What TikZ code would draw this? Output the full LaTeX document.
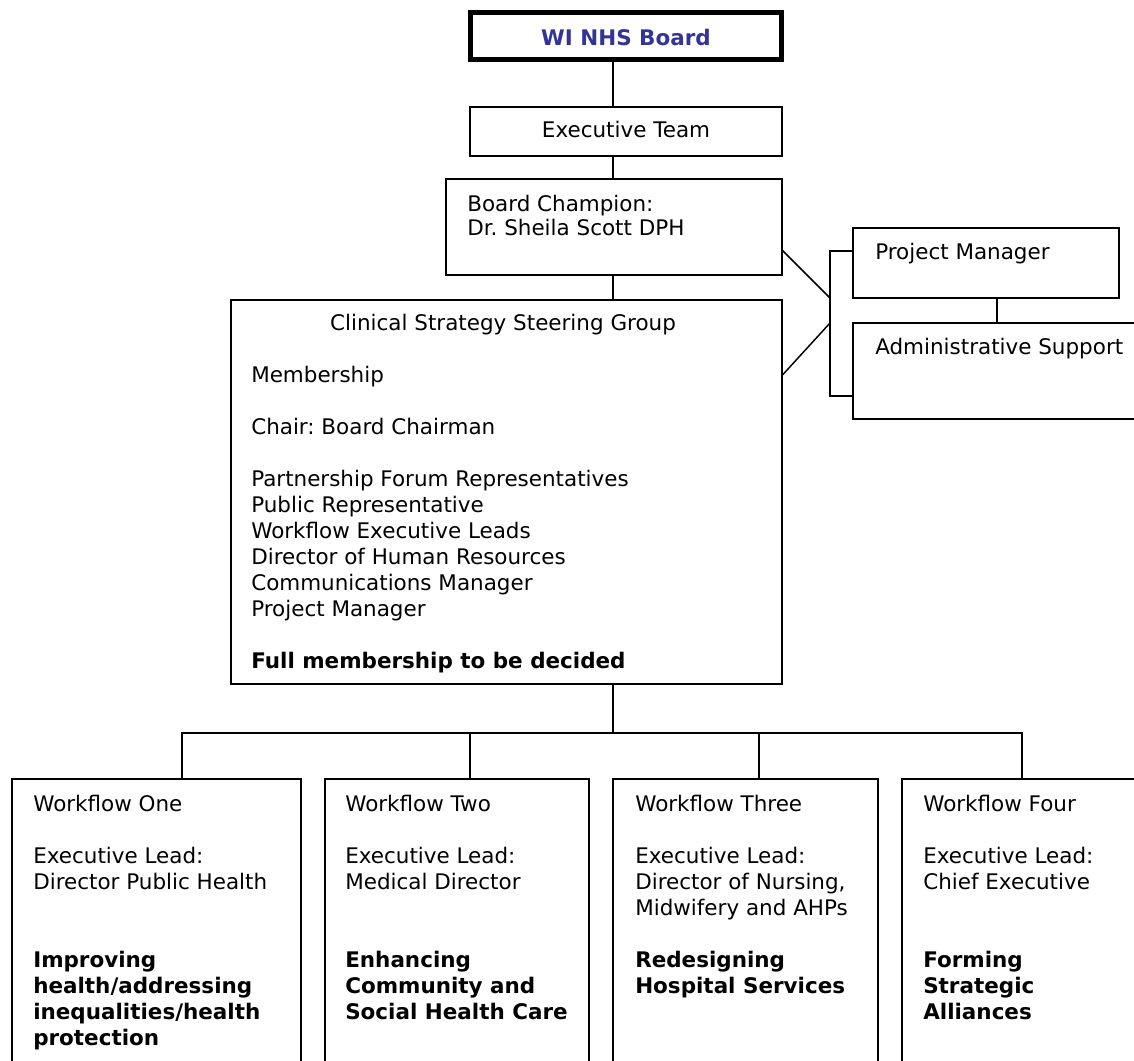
\documentclass[tikz,border=0pt]{standalone}
\usepackage{fontspec}
\setmainfont{DejaVu Sans}
\usepackage{tikz}
\usetikzlibrary{fit}

\definecolor{boardblue}{RGB}{51,51,153}
\newcommand{\firstline}{\rule{0pt}{15pt}}
\frenchspacing

\tikzset{
  orgbox/.style={draw, line width=1.1pt, inner sep=0pt},
  boardbox/.style={draw, line width=3.75pt, inner sep=0pt},
  orgtxt/.style={inner sep=0pt, align=left, font=\fontsize{16.1}{19.5}\selectfont},
  link/.style={line width=1.1pt},
}

\begin{document}
\begin{tikzpicture}[x=0.75pt,y=0.75pt,yscale=-1,xscale=1]
	\useasboundingbox (0,0) rectangle (1134,1060);
	
	%Shape: Rectangle [board]
	\node[boardbox, fit={(470.5,12.5) (781.5,59.5)}] (board) {};
	%Shape: Rectangle [executive team]
	\node[orgbox, fit={(470,107) (782,156)}] (exec) {};
	%Shape: Rectangle [champion]
	\node[orgbox, fit={(446,179) (782,275)}] (champ) {};
	%Shape: Rectangle [steering group]
	\node[orgbox, fit={(231,300) (782,684)}] (cssg) {};
	%Shape: Rectangle [project manager]
	\node[orgbox, fit={(853,228) (1119,298)}] (pm) {};
	%Shape: Rectangle [admin support]
	\node[orgbox, fit={(853,323) (1150,419)}] (admin) {};
	%Shape: Rectangle [workflows]
	\node[orgbox, fit={(12,779) (301,1080)}] (wfone) {};
	\node[orgbox, fit={(325,779) (589,1080)}] (wftwo) {};
	\node[orgbox, fit={(613,779) (878,1080)}] (wfthree) {};
	\node[orgbox, fit={(902,779) (1150,1080)}] (wffour) {};
	
	% Connectors
	\coordinate (spine) at (613,0);
	\draw[link] (board.south -| spine) -- (exec.north -| spine);
	\draw[link] (exec.south -| spine) -- (champ.north -| spine);
	\draw[link] (champ.south -| spine) -- (cssg.north -| spine);
	\coordinate (bar) at (613,733);
	\draw[link] (cssg.south -| spine) -- (bar);
	\coordinate (dropone) at (182,733);
	\coordinate (droptwo) at (470,733);
	\coordinate (dropthree) at (759,733);
	\coordinate (dropfour) at (1022,733);
	\draw[link] (dropone |- wfone.north) -- (dropone) -- (dropfour) -- (dropfour |- wffour.north);
	\draw[link] (droptwo) -- (droptwo |- wftwo.north);
	\draw[link] (dropthree) -- (dropthree |- wfthree.north);
	
	% side bracket
	\coordinate (bracktop) at (830,251);
	\coordinate (brackbot) at (830,396);
	\coordinate (meetup) at (830,298);
	\coordinate (meetlow) at (830,323);
	\draw[link] (bracktop -| pm.west) -- (bracktop) -- (brackbot) -- (brackbot -| admin.west);
	\draw[link] (champ.-8.5) -- (meetup);
	\draw[link] (cssg.23.7) -- (meetlow);
	\coordinate (pmlink) at (997,310);
	\draw[link] (pmlink |- pm.south) -- (pmlink |- admin.north);
	
	% Text Node
	\node[orgtxt, anchor=base, text=boardblue, font=\fontsize{16.1}{19.5}\selectfont\bfseries] (boardtxt) at (626,45) {WI NHS Board};
	% Text Node
	\node[orgtxt, anchor=base] (exectxt) at (626,137) {Executive Team};
	% Text Node
	\node[orgtxt, anchor=north west, font=\fontsize{16.1}{18}\selectfont] (champtxt) at (467,191) {\firstline Board Champion:\\Dr. Sheila Scott DPH};
	% Text Node
	\node[orgtxt, anchor=base] (cssgtitle) at (503,330) {Clinical Strategy Steering Group};
	% Text Node
	\node[orgtxt, anchor=north west] (cssgtxt) at (251,362) {\firstline Membership\\[19.5pt]
		Chair: Board Chairman\\[19.5pt]
		Partnership Forum Representatives\\
		Public Representative\\
		Workflow Executive Leads\\
		Director of Human Resources\\
		Communications Manager\\
		Project Manager\\[19.5pt]
		\textbf{Full membership to be decided}};
	% Text Node
	\node[orgtxt, anchor=base west] (pmtxt) at (875,259) {Project Manager};
	% Text Node
	\node[orgtxt, anchor=base west] (admintxt) at (875,354) {Administrative Support};
	% Text Node
	\node[orgtxt, anchor=north west] (wfonetxt) at (33,791) {\firstline Workflow One\\[19.5pt]
		Executive Lead:\\
		Director Public Health\\[39pt]
		\textbf{Improving}\\
		\textbf{health/addressing}\\
		\textbf{inequalities/health}\\
		\textbf{protection}};
	% Text Node
	\node[orgtxt, anchor=north west] (wftwotxt) at (345,791) {\firstline Workflow Two\\[19.5pt]
		Executive Lead:\\
		Medical Director\\[39pt]
		\textbf{Enhancing}\\
		\textbf{Community and}\\
		\textbf{Social Health Care}};
	% Text Node
	\node[orgtxt, anchor=north west] (wfthreetxt) at (635,791) {\firstline Workflow Three\\[19.5pt]
		Executive Lead:\\
		Director of Nursing,\\
		Midwifery and AHPs\\[19.5pt]
		\textbf{Redesigning}\\
		\textbf{Hospital Services}};
	% Text Node
	\node[orgtxt, anchor=north west] (wffourtxt) at (923,791) {\firstline Workflow Four\\[19.5pt]
		Executive Lead:\\
		Chief Executive\\[39pt]
		\textbf{Forming}\\
		\textbf{Strategic}\\
		\textbf{Alliances}};
	
\end{tikzpicture}
\end{document}
